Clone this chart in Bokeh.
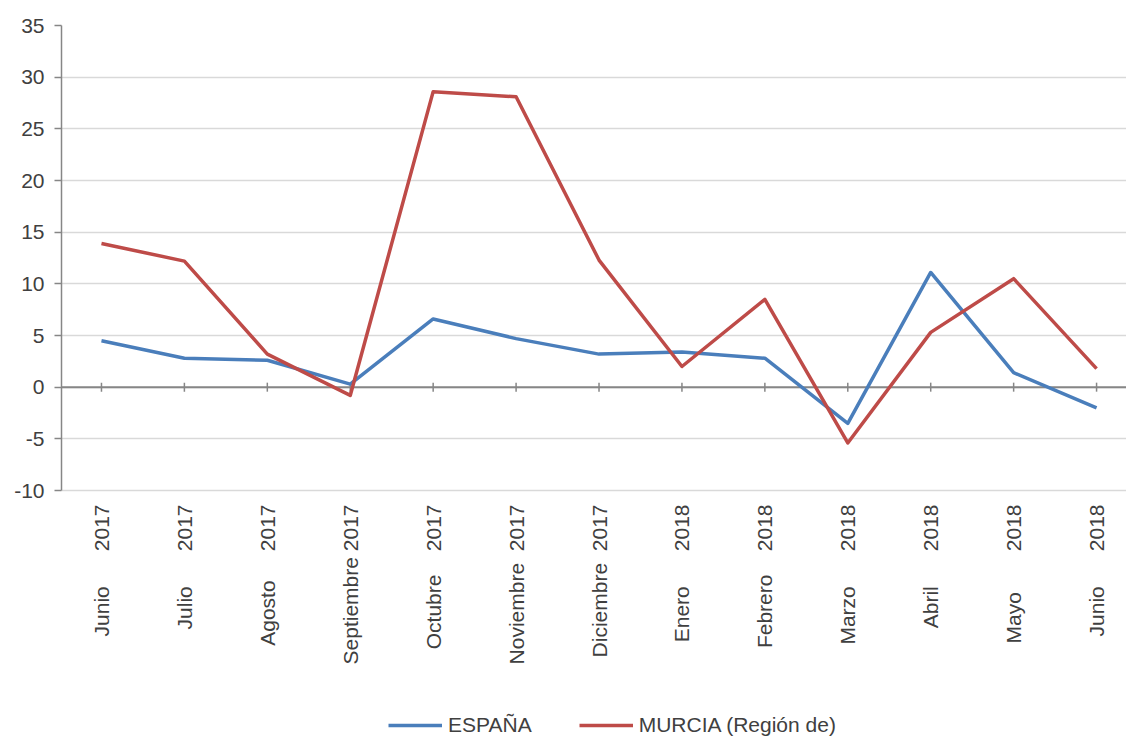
import math
from bokeh.plotting import figure
from bokeh.models import Range1d, FixedTicker, Span, Legend, LegendItem
from bokeh.core.properties import value
from bokeh.embed import file_html
from bokeh.resources import INLINE

# ---- data ----
months = ["Junio", "Julio", "Agosto", "Septiembre", "Octubre", "Noviembre",
          "Diciembre", "Enero", "Febrero", "Marzo", "Abril", "Mayo", "Junio"]
years = ["2017", "2017", "2017", "2017", "2017", "2017", "2017",
         "2018", "2018", "2018", "2018", "2018", "2018"]
espana = [4.5, 2.8, 2.6, 0.3, 6.6, 4.7, 3.2, 3.4, 2.8, -3.5, 11.1, 1.4, -2.0]
murcia = [13.9, 12.2, 3.2, -0.8, 28.6, 28.1, 12.3, 2.0, 8.5, -5.4, 5.3, 10.5, 1.8]
y_ticks = [-10, -5, 0, 5, 10, 15, 20, 25, 30, 35]
series_names = ["ESPAÑA", "MURCIA (Región de)"]

BLUE = "#4A7EBB"
RED = "#BE4B48"
AXIS = "#868686"
GRID = "#D9D9D9"
TXT = "#404040"
FONT = "Liberation Sans"
FS = "21px"

x = list(range(len(months)))
labels = [m + "\u00a0" * (11 - len(m)) + y for m, y in zip(months, years)]

# frame extends below the value axis so that the category labels and legend
# can be drawn inside it (below the lowest tick)
p = figure(width=1126, height=738, output_backend="svg", toolbar_location=None,
           x_axis_location=None,
           x_range=Range1d(-0.482, 12.361), y_range=Range1d(-34.0, 35),
           min_border_left=61, min_border_right=0, min_border_top=25,
           min_border_bottom=0)
p.outline_line_color = None
p.background_fill_color = "white"
p.border_fill_color = "white"

# y axis
p.yaxis.ticker = FixedTicker(ticks=y_ticks)
p.yaxis.bounds = (y_ticks[0], y_ticks[-1])
p.yaxis.major_label_overrides = {t: str(t) for t in y_ticks}
p.yaxis.axis_line_color = AXIS
p.yaxis.axis_line_width = 1.5
p.yaxis.major_tick_line_color = AXIS
p.yaxis.major_tick_line_width = 1.5
p.yaxis.major_tick_out = 7
p.yaxis.major_tick_in = 0
p.yaxis.minor_tick_line_color = None
p.yaxis.major_label_standoff = 10
p.yaxis.major_label_text_font = FONT
p.yaxis.major_label_text_font_size = FS
p.yaxis.major_label_text_color = TXT

p.xgrid.grid_line_color = None
p.ygrid.ticker = FixedTicker(ticks=y_ticks)
p.ygrid.grid_line_color = GRID
p.ygrid.grid_line_width = 1.5

# zero axis line with category ticks
p.add_layout(Span(location=0, dimension="width", line_color=AXIS, line_width=2, level="underlay"))
p.scatter(x, [0] * len(x), marker="dash", size=9, angle=math.pi / 2,
          line_color=AXIS, line_width=1.5)

# category labels (vertical, below the lowest gridline)
p.text(x=x, y=[y_ticks[0]] * len(x), text=labels, angle=math.pi / 2,
       text_align="right", text_baseline="middle", y_offset=14,
       text_font=value(FONT), text_font_size=value(FS), text_color=TXT)

r1 = p.line(x, espana, line_color=BLUE, line_width=3.5, line_join="round")
r2 = p.line(x, murcia, line_color=RED, line_width=3.5, line_join="round")

legend = Legend(items=[LegendItem(label=series_names[0], renderers=[r1]),
                       LegendItem(label=series_names[1], renderers=[r2])],
                location=(327, 1), orientation="horizontal",
                glyph_width=54, glyph_height=20, label_standoff=6, spacing=47,
                padding=0, margin=0, border_line_color=None,
                background_fill_alpha=0,
                label_text_font=FONT, label_text_font_size=FS,
                label_text_color=TXT)
p.add_layout(legend)

open("out.html", "w").write(file_html(p, INLINE))
